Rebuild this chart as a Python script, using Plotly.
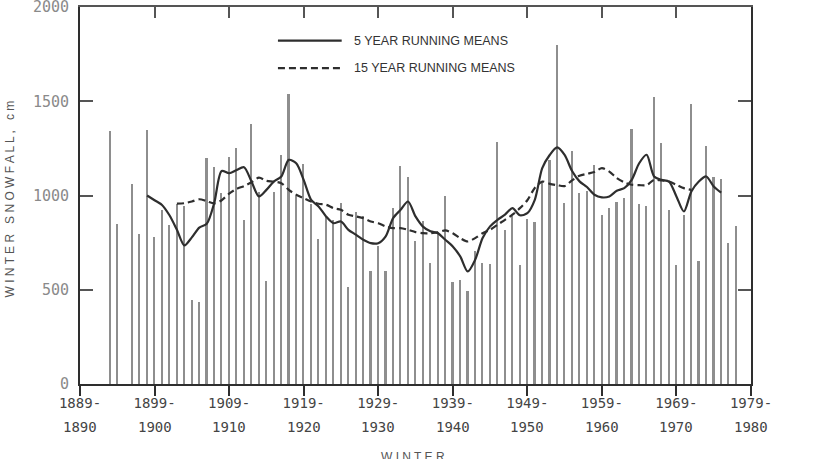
import plotly.graph_objects as go

# ---- data (winter start year -> snowfall, cm) ----
years = [1893, 1894, 1896, 1897, 1898, 1899, 1900, 1901, 1902, 1903, 1904, 1905,
         1906, 1907, 1908, 1909, 1910, 1911, 1912, 1913, 1914, 1915, 1916, 1917,
         1918, 1919, 1920, 1921, 1922, 1923, 1924, 1925, 1926, 1927, 1928, 1929,
         1930, 1931, 1932, 1933, 1934, 1935, 1936, 1937, 1938, 1939, 1940, 1941,
         1942, 1943, 1944, 1945, 1946, 1947, 1948, 1949, 1950, 1951, 1952, 1953,
         1954, 1955, 1956, 1957, 1958, 1959, 1960, 1961, 1962, 1963, 1964, 1965,
         1966, 1967, 1968, 1969, 1970, 1971, 1972, 1973, 1974, 1975, 1976, 1977]
snowfall = [1343, 850, 1060, 795, 1345, 779, 924, 845, 956, 945, 443, 435,
            1198, 1150, 1013, 1205, 1251, 870, 1378, 1020, 544, 1016, 1216, 1539,
            995, 1168, 956, 769, 889, 871, 959, 514, 915, 889, 597, 730,
            597, 933, 1154, 1097, 756, 865, 643, 805, 995, 539, 553, 491,
            703, 641, 638, 1286, 818, 889, 633, 875, 857, 1074, 1189, 1799,
            958, 1238, 1013, 1025, 1163, 895, 933, 968, 986, 1352, 956, 942,
            1525, 1280, 922, 633, 898, 1488, 652, 1260, 1099, 1088, 749, 838]

mean5_years = list(range(1898, 1976))
mean5 = [1000, 975, 950, 895, 818, 735, 778, 830, 850, 960,
         1130, 1118, 1135, 1150, 1074, 995, 1030, 1074, 1101, 1189,
         1171, 1083, 977, 942, 889, 853, 862, 818, 792, 765,
         747, 747, 783, 880, 924, 968, 889, 835, 810, 800,
         765, 730, 677, 597, 659, 774, 836, 871, 898, 933,
         895, 906, 977, 1145, 1215, 1255, 1215, 1130, 1075, 1045,
         1004, 990, 995, 1025, 1039, 1083, 1171, 1216, 1101, 1083,
         1074, 995, 915, 1021, 1074, 1101, 1048, 1015]

mean15_years = list(range(1902, 1972))
mean15 = [957, 959, 968, 980, 970, 958, 975, 1010, 1035, 1050,
          1070, 1095, 1078, 1074, 1065, 1030, 1004, 986, 968, 956,
          951, 933, 924, 898, 889, 880, 862, 853, 836, 827,
          827, 818, 806, 800, 800, 805, 815, 800, 774, 756,
          774, 800, 818, 845, 871, 898, 933, 975, 1040, 1074,
          1062, 1055, 1050, 1080, 1105, 1115, 1125, 1145, 1127, 1092,
          1070, 1057, 1055, 1055, 1083, 1080, 1074, 1057, 1039, 1030]

tick_years = list(range(1889, 1980, 10))
tick_line1 = [f"{y}-" for y in tick_years]
tick_line2 = [str(y + 1) for y in tick_years]
y_ticks = [0, 500, 1000, 1500, 2000]

legend_labels = ["5 YEAR RUNNING MEANS", "15 YEAR RUNNING MEANS"]

MONO = "DejaVu Sans Mono, Liberation Mono, monospace"
SANS = "Liberation Sans, Arial, sans-serif"
DARK = "#2e2e2e"
TICKTXT = "#444"

fig = go.Figure()

fig.add_trace(go.Bar(x=years, y=snowfall, width=0.22,
                     marker=dict(color="#8e8e8e", line=dict(width=0)),
                     showlegend=False, hoverinfo="x+y"))
fig.add_trace(go.Scatter(x=mean5_years, y=mean5, mode="lines",
                         line=dict(color=DARK, width=2.2, shape="spline", smoothing=0.8),
                         showlegend=False))
fig.add_trace(go.Scatter(x=mean15_years, y=mean15, mode="lines",
                         line=dict(color=DARK, width=2.2, dash="7px,4px",
                                   shape="spline", smoothing=0.8),
                         showlegend=False))
# invisible helper trace so the top (mirror) axis is drawn
fig.add_trace(go.Scatter(x=[tick_years[0], tick_years[-1]], y=[0, 0], xaxis="x2",
                         mode="none", showlegend=False, hoverinfo="skip"))

xr = [tick_years[0], tick_years[-1]]

annotations = [
    dict(text="W I N T E R   S N O W F A L L ,   c m", textangle=-90,
         xref="paper", yref="paper", x=-0.104, y=0.49,
         xanchor="center", yanchor="middle", showarrow=False,
         font=dict(family=SANS, size=12, color="#555")),
    dict(text="W I N T E R", xref="paper", yref="paper", x=0.496, y=-0.17,
         xanchor="center", yanchor="top", showarrow=False,
         font=dict(family=SANS, size=12, color="#555")),
    dict(text=legend_labels[0], xref="paper", yref="paper", x=0.405, y=0.911,
         xanchor="left", yanchor="middle", showarrow=False,
         font=dict(family=SANS, size=12.5, color="#333")),
    dict(text=legend_labels[1], xref="paper", yref="paper", x=0.405, y=0.838,
         xanchor="left", yanchor="middle", showarrow=False,
         font=dict(family=SANS, size=12.5, color="#333")),
]
# second line of each winter label
for ty, txt in zip(tick_years, tick_line2):
    annotations.append(dict(text=txt, xref="x", yref="paper", x=ty, y=-0.113,
                            xanchor="center", yanchor="middle", showarrow=False,
                            font=dict(family=MONO, size=14, color=TICKTXT)))

fig.update_layout(
    width=828, height=459,
    margin=dict(l=80, r=77, t=7, b=75, autoexpand=False),
    paper_bgcolor="white", plot_bgcolor="white",
    bargap=0,
    xaxis=dict(range=xr, tickmode="array", tickvals=tick_years, ticktext=tick_line1,
               ticks="outside", ticklen=10, tickwidth=1.5, tickcolor=DARK,
               showline=True, linecolor=DARK, linewidth=2, showgrid=False,
               zeroline=False, ticklabelstandoff=-5, automargin=False,
               tickfont=dict(family=MONO, size=14, color=TICKTXT)),
    xaxis2=dict(range=xr, overlaying="x", side="top", anchor="y",
                tickmode="array", tickvals=tick_years, showticklabels=False,
                ticks="inside", ticklen=11, tickwidth=1.5, tickcolor="#555",
                showline=True, linecolor="#555", linewidth=2, automargin=False,
                showgrid=False, zeroline=False),
    yaxis=dict(range=[0, 2000], tickmode="array", tickvals=y_ticks,
               ticks="inside", ticklen=13, tickwidth=1.5, tickcolor="#555",
               showline=True, linecolor=DARK, linewidth=2, mirror="ticks",
               showgrid=False, zeroline=False, ticklabelstandoff=6,
               ticklabeloverflow="allow", automargin=False,
               tickfont=dict(family=MONO, size=15, color="#8a8a8a")),
    annotations=annotations,
    shapes=[
        dict(type="line", xref="paper", yref="paper", x0=0.295, x1=0.390,
             y0=0.911, y1=0.911, line=dict(color=DARK, width=2.2)),
        dict(type="line", xref="paper", yref="paper", x0=0.295, x1=0.390,
             y0=0.838, y1=0.838, line=dict(color=DARK, width=2.2, dash="7px,4px")),
    ],
)

fig.write_html("out.html")
